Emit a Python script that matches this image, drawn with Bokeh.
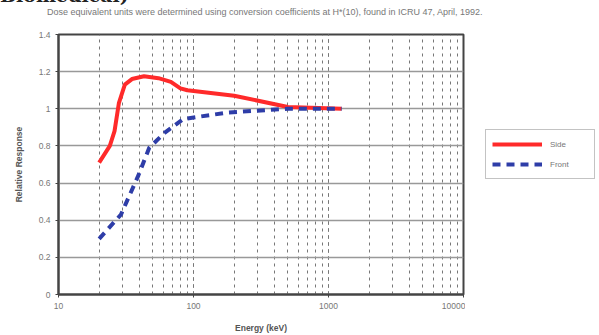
from bokeh.plotting import figure
from bokeh.models import (Legend, LegendItem, LogTicker, FixedTicker, Range1d, Div,
                          CustomJSTickFormatter)
from bokeh.layouts import column, row
from bokeh.embed import file_html
from bokeh.resources import INLINE

side_energy = [20, 24, 26, 28, 31, 35, 43, 55, 68, 80, 90, 200, 500, 1250]
side_resp = [0.71, 0.80, 0.88, 1.03, 1.13, 1.16, 1.175, 1.165, 1.145, 1.11, 1.10, 1.07, 1.01, 1.0]
front_energy = [20, 29, 39, 47, 61, 84, 180, 500, 1250]
front_resp = [0.30, 0.43, 0.64, 0.79, 0.87, 0.945, 0.98, 1.0, 1.0]
y_ticks = [0, 0.2, 0.4, 0.6, 0.8, 1.0, 1.2, 1.4]
x_ticks = [10, 100, 1000, 10000]
note = "Dose equivalent units were determined using conversion coefficients at H*(10), found in ICRU 47, April, 1992."
header = "Biomedical)"

SIDE = "#ff2a2a"
FRONT = "#2e3da8"
TOP = 30

p = figure(width=465, height=335 - TOP, x_axis_type="log", output_backend="svg",
           toolbar_location=None, x_range=Range1d(10, 10000), y_range=Range1d(0, 1.4),
           min_border_left=58, min_border_right=2, min_border_top=34 - TOP, min_border_bottom=37)

p.xaxis.ticker = LogTicker(desired_num_ticks=4, num_minor_ticks=10)
p.xaxis.formatter = CustomJSTickFormatter(code="return tick.toFixed(0);")
p.yaxis.ticker = FixedTicker(ticks=y_ticks)
p.yaxis.major_label_overrides = {0: "0", 1: "1"}

for ax in (p.xaxis, p.yaxis):
    ax.axis_line_color = "#444444"
    ax.axis_line_width = 2
    ax.major_tick_line_color = "#444444"
    ax.major_tick_out = 3
    ax.major_tick_in = 0
    ax.minor_tick_line_color = None
    ax.major_label_text_font = "Liberation Sans"
    ax.major_label_text_font_size = "8.5px"
    ax.major_label_text_color = "#777777"
    ax.axis_label_text_font = "Liberation Sans"
    ax.axis_label_text_font_size = "8.5px"
    ax.axis_label_text_font_style = "bold"
    ax.axis_label_text_color = "#555555"

p.xaxis.axis_label = "Energy (keV)"
p.yaxis.axis_label = "Relative Response"
p.xaxis.major_label_standoff = 4
p.xaxis.axis_label_standoff = 11
p.yaxis.axis_label_standoff = 12

p.outline_line_color = "#444444"
p.outline_line_width = 2

p.ygrid.grid_line_color = "#999999"
p.ygrid.grid_line_width = 1.5
p.xgrid.grid_line_color = "#777777"
p.xgrid.grid_line_dash = "3 4"
p.xgrid.grid_line_width = 1
p.xgrid.minor_grid_line_color = "#777777"
p.xgrid.minor_grid_line_dash = "3 4"
p.xgrid.minor_grid_line_width = 1

p.line(side_energy, side_resp, line_color=SIDE, line_width=4)
p.line(front_energy, front_resp, line_color=FRONT, line_width=4, line_dash="8 6")

# legend panel (separate figure to the right of the plot)
lf = figure(width=599 - 465, height=335 - TOP, output_backend="svg", toolbar_location=None,
            x_axis_location=None, y_axis_location=None, x_range=Range1d(0, 1), y_range=Range1d(0, 1),
            min_border=0, outline_line_color=None)
lf.grid.visible = False
l1 = lf.line([5, 6], [5, 6], line_color=SIDE, line_width=4)
l2 = lf.line([5, 6], [5, 6], line_color=FRONT, line_width=4, line_dash="8 6")
legend = Legend(items=[LegendItem(label="Side", renderers=[l1]),
                       LegendItem(label="Front", renderers=[l2])],
                location=(20, 115))
legend.label_text_font = "Liberation Sans"
legend.label_text_font_size = "8px"
legend.label_text_color = "#777777"
legend.border_line_color = "#888888"
legend.border_line_width = 1
legend.glyph_width = 50
legend.glyph_height = 16
legend.label_height = 16
legend.label_width = 38
legend.label_standoff = 8
legend.spacing = 4
legend.padding = 6
legend.margin = 0
legend.background_fill_alpha = 1
lf.add_layout(legend, "center")

html = (
    '<div style="position:relative;width:599px;height:%dpx;overflow:hidden;margin:0;padding:0">'
    '<div style="position:absolute;left:0px;top:-16px;font-family:\'DejaVu Serif\';font-weight:bold;'
    'font-size:19px;line-height:22px;color:#222;white-space:nowrap">%s</div>'
    '<div style="position:absolute;left:47px;top:7px;font-family:\'Liberation Sans\';font-size:9px;'
    'line-height:11px;color:#777;white-space:nowrap">%s</div>'
    '</div>' % (TOP, header, note)
)
div = Div(text=html, width=599, height=TOP, styles={"overflow": "hidden", "margin": "0", "padding": "0"})

layout = column(div, row(p, lf, spacing=0), spacing=0)
open("out.html", "w").write(file_html(layout, INLINE))
